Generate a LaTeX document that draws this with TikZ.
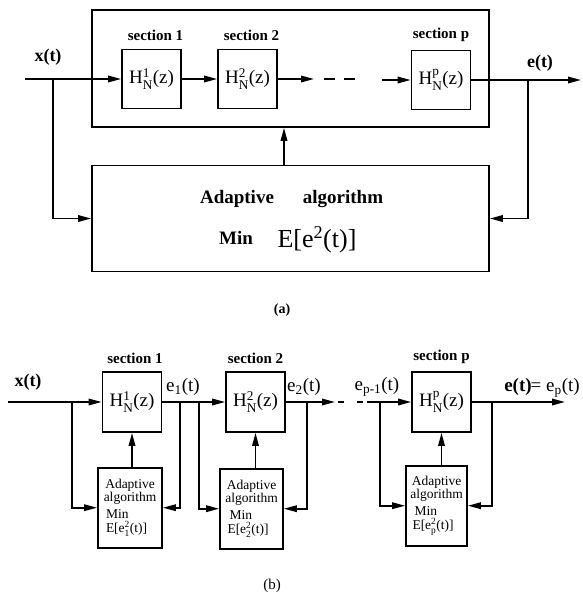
\documentclass[tikz,border=0pt]{standalone}
\usepackage{amsmath}
\usepackage{fontspec}
\setmainfont{Liberation Serif}
\usetikzlibrary{arrows.meta, positioning}

\begin{document}
\begin{tikzpicture}[
			x=1pt, y=-1pt,
			line width=1.7pt,
			node distance=7pt and 7pt,
			chainbox/.style={rectangle, draw, minimum width=397pt, minimum height=117pt, inner sep=0pt},
			algbox/.style={rectangle, draw, minimum width=397pt, minimum height=106pt, inner sep=0pt},
			sectbox/.style={rectangle, draw, minimum width=59pt, minimum height=59pt, inner sep=0pt, font=\fontsize{19}{19}\selectfont},
			minialg/.style={rectangle, draw, minimum height=80pt, inner sep=0pt, align=center, font=\fontsize{13.5}{13.5}\selectfont},
			seclabel/.style={inner sep=0pt, font=\fontsize{15}{15}\selectfont\bfseries},
			sig/.style={inner sep=0pt, font=\fontsize{18}{18}\selectfont\bfseries},
			err/.style={inner sep=0pt, font=\fontsize{19}{19}\selectfont},
			bigtxt/.style={inner sep=0pt, font=\fontsize{19}{19}\selectfont\bfseries},
			arr/.style={-{Triangle[length=13pt, width=6.5pt]}}
			]
			\useasboundingbox (0,0) rectangle (582,592);
			% (a) cascade adapted as a whole
			\node[chainbox] (chain) at (290.5,68.5) {};
			\node[sectbox] (h1) at (151.5,79) {H$^{\text{1}}_{\text{N}}$(z)};
			\node[sectbox] (h2) at (247.5,79) {H$^{\text{2}}_{\text{N}}$(z)};
			\node[sectbox] (hp) at (441,80) {H$^{\text{p}}_{\text{N}}$(z)};
			\node[seclabel, above=of h1, xshift=4pt] (s1) {section 1};
			\node[seclabel, above=of h2, xshift=4pt] (s2) {section 2};
			\node[seclabel, above=of hp] (sp) {section p};
			\node[algbox] (alg) at (290.5,218.5) {};
			\node[bigtxt] (adapt) at (237,199) {Adaptive};
			\node[bigtxt] (algo) at (343,199) {algorithm};
			\node[bigtxt] (minlab) at (236,238) {Min};
			\node[inner sep=0pt, font=\fontsize{26}{26}\selectfont] (cost) at (317,240) {E[e\textsuperscript{2}(t)]};
			\node[sig] (xlab) at (48,57) {x(t)};
			\node[sig] (elab) at (540,63) {e(t)};
			\coordinate (xin) at (25,79);
			\coordinate (ja) at (53,79);
			\coordinate (da) at (314,79);
			\coordinate (db) at (324,79);
			\coordinate (dc) at (355,79);
			\coordinate (dd) at (382,80);
			\coordinate (je) at (528,80);
			\coordinate (eout) at (581,80);
			\draw[arr] (xin) -- (h1);
			\draw[arr] (h1) -- (h2);
			\draw[arr] (h2) -- (da);
			\draw[dash pattern=on 11pt off 9pt] (db) -- (dc);
			\draw[arr] (dd) -- (hp);
			\draw[arr] (hp) -- (eout);
			\draw[arr] (ja) |- (alg.west);
			\draw[arr] (je) |- (alg.east);
			\draw[arr] ([xshift=-6.5pt]alg.north) -- ([xshift=-6.5pt]chain.south);
			\node[inner sep=0pt, font=\fontsize{14}{14}\selectfont\bfseries] (capa) at (282,310) {(a)};
			% (b) each section adapted on its own
			\node[sectbox, minimum height=60pt] (h1b) at (132,402) {H$^{\text{1}}_{\text{N}}$(z)};
			\node[sectbox, minimum height=60pt] (h2b) at (255.5,402) {H$^{\text{2}}_{\text{N}}$(z)};
			\node[sectbox, minimum height=60pt] (hpb) at (441.5,402) {H$^{\text{p}}_{\text{N}}$(z)};
			\node[seclabel, above=of h1b, xshift=3pt] (s1b) {section 1};
			\node[seclabel, above=of h2b] (s2b) {section 2};
			\node[seclabel, above=of hpb] (spb) {section p};
			\node[minialg, minimum width=64pt, below=34pt of h1b, xshift=-2pt] (a1b) {Adaptive\\algorithm\\[3pt]\makebox[48pt][l]{Min}\\[1pt]\makebox[48pt][l]{E[e$^{\text{2}}_{\text{1}}$(t)]}};
			\node[minialg, minimum width=63pt, below=35pt of h2b, xshift=-4pt] (a2b) {Adaptive\\algorithm\\[3pt]\makebox[44pt][l]{Min}\\[1pt]\makebox[48pt][l]{E[e$^{\text{2}}_{\text{2}}$(t)]}};
			\node[minialg, minimum width=61pt, below=32pt of hpb, xshift=-5pt] (apb) {Adaptive\\algorithm\\[3pt]\makebox[44pt][l]{Min}\\[1pt]\makebox[48pt][l]{E[e$^{\text{2}}_{\text{p}}$(t)]}};
			\node[sig] (xlabb) at (28,382) {x(t)};
			\node[err] (e1lab) at (183,387) {e$_{\text{1}}$(t)};
			\node[err] (e2lab) at (304,387) {e$_{\text{2}}$(t)};
			\node[err] (epmlab) at (377,387) {e$_{\text{p-1}}$(t)};
			\node[err] (eplab) at (542,388) {\textbf{e(t)}\kern-1pt= e$_{\text{p}}$(t)};
			\coordinate (xinb) at (8,402);
			\coordinate (j1l) at (72,402);
			\coordinate (j1r) at (180,402);
			\coordinate (j2l) at (199,402);
			\coordinate (j2r) at (307,402);
			\coordinate (jpl) at (380,402);
			\coordinate (jpr) at (492,402);
			\coordinate (eb1) at (335,402);
			\coordinate (eb2) at (338,402);
			\coordinate (eb3) at (363,402);
			\coordinate (eb4) at (367,402);
			\coordinate (eoutb) at (565,402);
			\draw[arr] (xinb) -- (h1b);
			\draw[arr] (h1b) -- (h2b);
			\draw[arr] (h2b) -- (eb1);
			\draw[dash pattern=on 6pt off 13pt] (eb2) -- (eb3);
			\draw[arr] (eb4) -- (hpb);
			\draw[arr] (hpb) -- (eoutb);
			\draw[arr] (j1l) |- (a1b.west);
			\draw[arr] (j1r) |- (a1b.east);
			\draw[arr] (j2l) |- (a2b.west);
			\draw[arr] (j2r) |- (a2b.east);
			\draw[arr] (jpl) |- (apb.west);
			\draw[arr] (jpr) |- (apb.east);
			\draw[arr] (a1b.north -| h1b.south) -- (h1b.south);
			\draw[arr] (a2b.north -| h2b.south) -- (h2b.south);
			\draw[arr] (apb.north -| hpb.south) -- (hpb.south);
			\node[inner sep=0pt, font=\fontsize{15}{15}\selectfont] (capb) at (272,586) {(b)};
		\end{tikzpicture}
\end{document}
